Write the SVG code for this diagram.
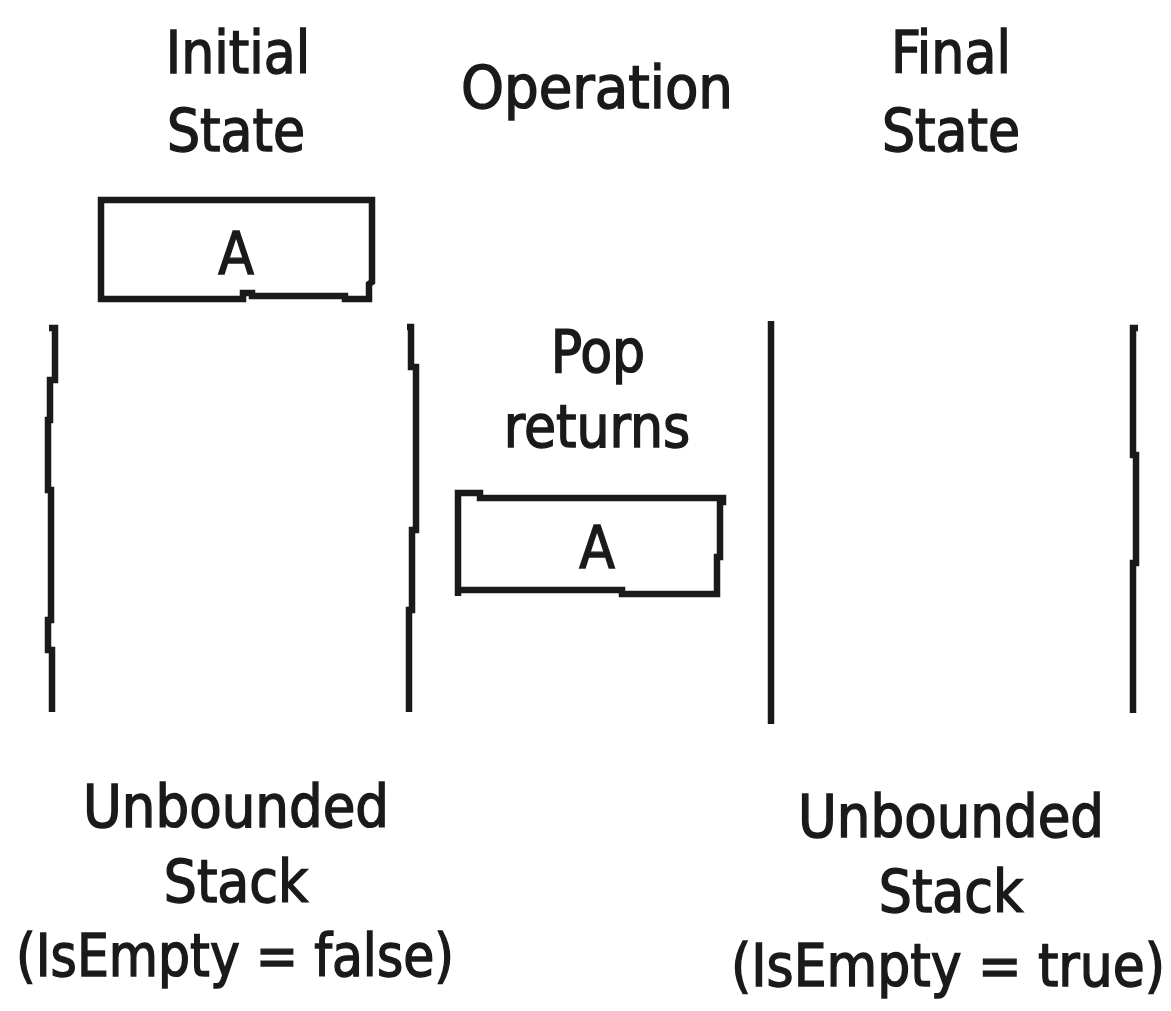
<svg xmlns="http://www.w3.org/2000/svg" width="1171" height="1011" viewBox="0 0 1171 1011">
  <style>
    .lbl { font-family: "DejaVu Sans Condensed", "DejaVu Sans", sans-serif; font-size: 58px; fill: #1a1a1a; stroke: #1a1a1a; stroke-width: 1.4; text-anchor: middle; }
    .ink { fill: none; stroke: #1a1a1a; stroke-width: 6.5; stroke-linejoin: miter; stroke-linecap: butt; }
  </style>
  <rect width="1171" height="1011" fill="#ffffff"/>

  <!-- column headings -->
  <g id="heading-initial">
    <text class="lbl" x="238" y="73">Initial</text>
    <text class="lbl" x="236" y="151">State</text>
  </g>
  <g id="heading-operation">
    <text class="lbl" x="597" y="108" textLength="272" lengthAdjust="spacingAndGlyphs">Operation</text>
  </g>
  <g id="heading-final">
    <text class="lbl" x="951" y="73">Final</text>
    <text class="lbl" x="951" y="151">State</text>
  </g>

  <!-- item A on top of the initial stack -->
  <g id="item-initial">
    <path class="ink" d="M101 200 H372 V282 L369 284 V299 H345 V296 H252 V293 H243 V299 H101 Z"/>
    <text class="lbl" x="236" y="274">A</text>
  </g>

  <!-- initial stack walls -->
  <g id="stack-initial">
    <path class="ink" d="M49 328 H55 V380 H50 V420 H48 V490 H51 V620 H48 V650 H52 V712"/>
    <path class="ink" d="M407 327 H411 V367 H416 V530 H412 V610 H409 V712"/>
  </g>

  <!-- operation: Pop returns A -->
  <g id="operation-pop">
    <text class="lbl" x="598" y="372">Pop</text>
    <text class="lbl" x="597" y="447">returns</text>
    <path class="ink" d="M458 596 V493 H480 V498 H723 V502 H720 V557 H717 V594 H622 V590 H458"/>
    <text class="lbl" x="597" y="568">A</text>
  </g>

  <!-- final stack walls -->
  <g id="stack-final">
    <path class="ink" d="M771 321 V724"/>
    <path class="ink" d="M1138 328 H1133 V455 H1136 V563 H1133 V713"/>
  </g>

  <!-- captions under each stack -->
  <g id="caption-initial">
    <text class="lbl" x="236" y="827" textLength="306" lengthAdjust="spacingAndGlyphs">Unbounded</text>
    <text class="lbl" x="236" y="902">Stack</text>
    <text class="lbl" x="235" y="976" textLength="438" lengthAdjust="spacingAndGlyphs">(IsEmpty = false)</text>
  </g>
  <g id="caption-final">
    <text class="lbl" x="951" y="837" textLength="306" lengthAdjust="spacingAndGlyphs">Unbounded</text>
    <text class="lbl" x="951" y="912">Stack</text>
    <text class="lbl" x="948" y="986" textLength="434" lengthAdjust="spacingAndGlyphs">(IsEmpty = true)</text>
  </g>

  <!-- no connectors between nodes in this figure -->
  <g id="connectors"/>
</svg>
